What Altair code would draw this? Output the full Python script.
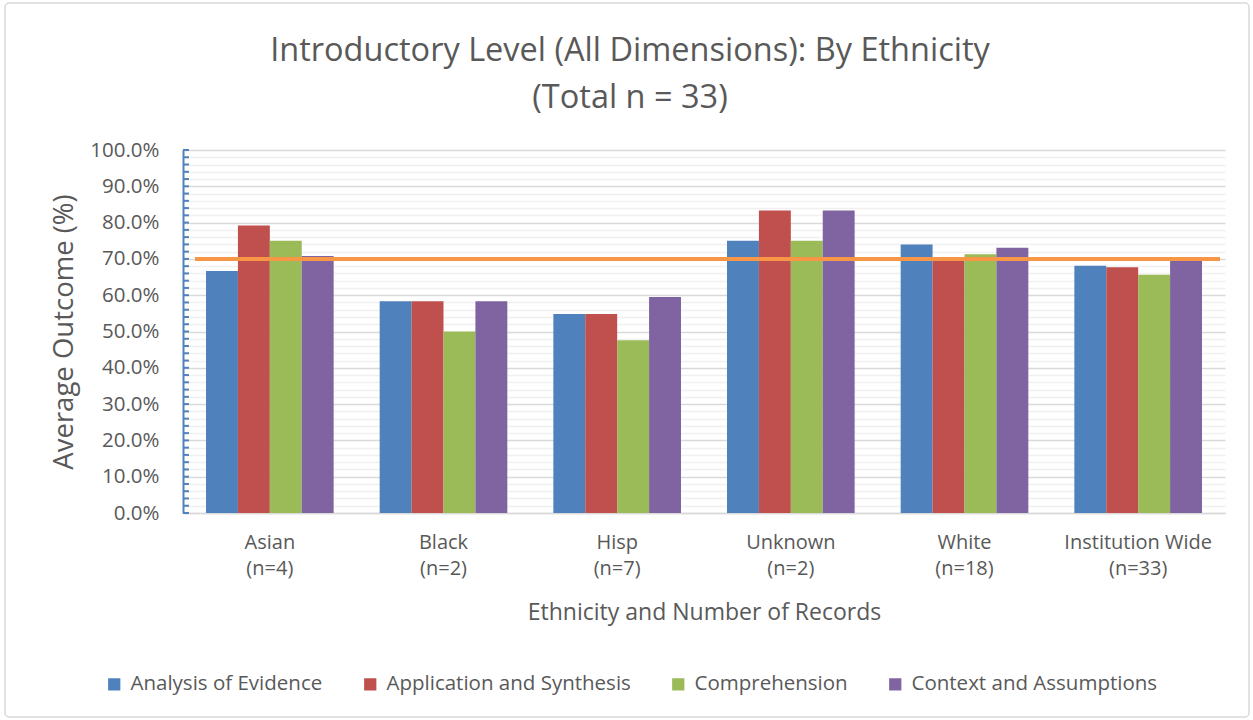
import altair as alt
import pandas as pd

# ---- data ----
groups = ["Asian", "Black", "Hisp", "Unknown", "White", "Institution Wide"]
counts = [4, 2, 7, 2, 18, 33]
series = ["Analysis of Evidence", "Application and Synthesis", "Comprehension", "Context and Assumptions"]
analysis = [0.667, 0.583, 0.548, 0.750, 0.740, 0.681]
application = [0.792, 0.583, 0.548, 0.833, 0.699, 0.677]
comprehension = [0.750, 0.500, 0.476, 0.750, 0.713, 0.656]
context = [0.708, 0.583, 0.595, 0.833, 0.731, 0.697]
target = [0.70]
colors = ["#4F81BD", "#C0504D", "#9BBB59", "#8064A2"]
y_ticks = [0.00, 0.02, 0.04, 0.06, 0.08, 0.10, 0.12, 0.14, 0.16, 0.18, 0.20,
           0.22, 0.24, 0.26, 0.28, 0.30, 0.32, 0.34, 0.36, 0.38, 0.40,
           0.42, 0.44, 0.46, 0.48, 0.50, 0.52, 0.54, 0.56, 0.58, 0.60,
           0.62, 0.64, 0.66, 0.68, 0.70, 0.72, 0.74, 0.76, 0.78, 0.80,
           0.82, 0.84, 0.86, 0.88, 0.90, 0.92, 0.94, 0.96, 0.98, 1.00]

FONT = "Open Sans"
TXT = "#595959"
W, H = 1042, 363

labels = [f"{g}|(n={c})" for g, c in zip(groups, counts)]
rows = []
for i, lab in enumerate(labels):
    for s, vals in zip(series, [analysis, application, comprehension, context]):
        rows.append({"label": lab, "series": s, "value": vals[i]})
df = pd.DataFrame(rows)

yscale = alt.Scale(domain=[0, 1], nice=False, zero=True)
is_major = "round(datum.value * 50) % 5 === 0"
YTITLE = "Average Outcome (%)"

bars = alt.Chart(df).mark_bar().encode(
    x=alt.X("label:N", sort=labels,
            scale=alt.Scale(paddingInner=0.265, paddingOuter=0.1325),
            axis=alt.Axis(title="Ethnicity and Number of Records",
                          labelExpr="split(datum.value, '|')", labelAngle=0,
                          ticks=False, domainColor="#d9d9d9", domainWidth=1.5,
                          labelFontSize=20, labelColor=TXT, labelFont=FONT,
                          labelLineHeight=26, labelPadding=19,
                          titleFontSize=23, titleColor=TXT, titleFont=FONT,
                          titleFontWeight="normal", titlePadding=23, grid=False)),
    xOffset=alt.XOffset("series:N", sort=series, scale=alt.Scale(paddingInner=0)),
    y=alt.Y("value:Q", scale=yscale, title=YTITLE,
            axis=alt.Axis(title=YTITLE, values=y_ticks, tickCount=200, format=".1%",
                          labelExpr=f"{is_major} ? datum.label : ''",
                          ticks=True, tickColor="#4F81BD", tickSize=0, tickWidth=0,
                          domainColor="#4F81BD", domainWidth=2,
                          grid=True, gridWidth=1.5,
                          gridColor={"condition": {"test": is_major, "value": "#d9d9d9"},
                                     "value": "#f0f0f0"},
                          labelFontSize=20.5, labelColor=TXT, labelFont=FONT,
                          labelPadding=24, labelOverlap=False,
                          titleFontSize=27.5, titleColor=TXT, titleFont=FONT,
                          titleFontWeight="normal", titlePadding=11)),
    color=alt.Color("series:N", sort=series,
                    scale=alt.Scale(domain=series, range=colors),
                    legend=alt.Legend(title=None, orient="none", direction="horizontal",
                                      legendX=-79, legendY=524,
                                      symbolType="square", symbolSize=150,
                                      symbolStrokeWidth=0, labelFontSize=20.5,
                                      labelColor=TXT, labelFont=FONT, labelLimit=400,
                                      columnPadding=37, labelOffset=6)),
)

tick_layer = alt.Chart(pd.DataFrame({"value": y_ticks})).mark_rule(
    color="#4F81BD", strokeWidth=2
).encode(
    y=alt.Y("value:Q", scale=yscale, title=YTITLE), x=alt.value(0), x2=alt.value(6)
)

target_line = alt.Chart(pd.DataFrame({"value": target})).mark_rule(
    color="#F79646", strokeWidth=4
).encode(
    y=alt.Y("value:Q", scale=yscale, title=YTITLE), x=alt.value(12), x2=alt.value(W - 5)
)

border = alt.Chart(pd.DataFrame({"a": [0]})).mark_rect(
    fillOpacity=0, stroke="#d9d9d9", strokeWidth=1.5, cornerRadius=4
).encode(
    x=alt.value(-178), x2=alt.value(W + 24), y=alt.value(-147), y2=alt.value(H + 204)
)

chart = alt.layer(bars, tick_layer, target_line, border).properties(
    width=W, height=H,
    background="white",
    title=alt.TitleParams(
        text=["Introductory Level (All Dimensions):  By Ethnicity", "(Total n = 33)"],
        fontSize=32.5, color=TXT, font=FONT, fontWeight="normal",
        anchor="middle", dx=-74, offset=-112, lineHeight=47),
    autosize=alt.AutoSizeParams(type="none"),
    padding={"left": 183, "top": 150, "right": 28, "bottom": 207},
).configure_view(stroke=None)

chart.save("out.html", embed_options={"renderer": "svg", "actions": False})
